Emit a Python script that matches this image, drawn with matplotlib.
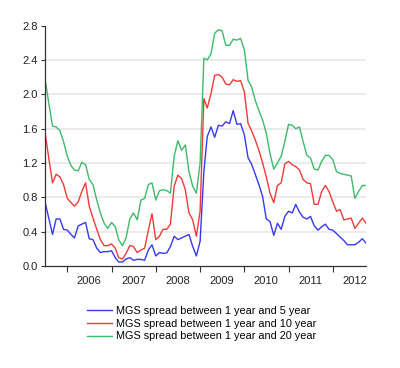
#!/usr/bin/env python3
import numpy as np
import pandas as pd
import matplotlib
matplotlib.use("Agg")
import matplotlib.pyplot as plt
import matplotlib.dates as mdates

plt.rcParams['font.family'] = ['Liberation Sans', 'DejaVu Sans']

# monthly observations, Jul 2005 .. Oct 2012
months = pd.date_range('2005-07-01', periods=88, freq='MS')

spread_5y = [0.75, 0.56, 0.37, 0.55, 0.55, 0.43, 0.42, 0.37, 0.33, 0.47,
             0.49, 0.51, 0.32, 0.31, 0.21, 0.16, 0.17, 0.17, 0.18, 0.10,
             0.05, 0.05, 0.085, 0.10, 0.07, 0.08, 0.08, 0.07, 0.19, 0.25,
             0.12, 0.16, 0.15, 0.155, 0.23, 0.35, 0.31, 0.33, 0.35, 0.37,
             0.23, 0.12, 0.29, 1.10, 1.51, 1.62, 1.50, 1.64, 1.63, 1.68,
             1.66, 1.81, 1.65, 1.66, 1.53, 1.26, 1.19, 1.07, 0.95, 0.81,
             0.55, 0.52, 0.36, 0.50, 0.43, 0.58, 0.64, 0.62, 0.72, 0.63,
             0.57, 0.55, 0.58, 0.47, 0.42, 0.46, 0.49, 0.43, 0.42, 0.38,
             0.34, 0.30, 0.25, 0.25, 0.25, 0.28, 0.32, 0.27]

spread_10y = [1.56, 1.26, 0.97, 1.07, 1.04, 0.95, 0.79, 0.74, 0.70, 0.75,
              0.87, 0.97, 0.70, 0.56, 0.43, 0.31, 0.24, 0.24, 0.26, 0.21,
              0.10, 0.085, 0.15, 0.24, 0.23, 0.16, 0.19, 0.21, 0.42, 0.61,
              0.31, 0.35, 0.43, 0.43, 0.49, 0.93, 1.06, 1.02, 0.89, 0.62,
              0.54, 0.35, 0.64, 1.95, 1.84, 2.01, 2.22, 2.23, 2.20, 2.12,
              2.11, 2.17, 2.15, 2.16, 2.03, 1.66, 1.58, 1.47, 1.35, 1.20,
              1.04, 0.85, 0.74, 0.94, 0.97, 1.19, 1.22, 1.18, 1.16, 1.12,
              1.01, 0.97, 0.96, 0.72, 0.72, 0.87, 0.94, 0.87, 0.75, 0.64,
              0.66, 0.54, 0.55, 0.56, 0.44, 0.50, 0.56, 0.50]

spread_20y = [2.18, 1.90, 1.63, 1.62, 1.58, 1.45, 1.28, 1.17, 1.12, 1.11,
              1.21, 1.18, 1.01, 0.95, 0.77, 0.62, 0.50, 0.44, 0.51, 0.46,
              0.31, 0.24, 0.33, 0.55, 0.62, 0.54, 0.77, 0.79, 0.95, 0.97,
              0.77, 0.88, 0.89, 0.88, 0.85, 1.28, 1.46, 1.35, 1.41, 1.10,
              0.93, 0.85, 1.20, 2.42, 2.40, 2.47, 2.71, 2.75, 2.74, 2.57,
              2.57, 2.64, 2.63, 2.65, 2.52, 2.16, 2.09, 1.93, 1.81, 1.70,
              1.55, 1.31, 1.13, 1.20, 1.28, 1.45, 1.65, 1.64, 1.60, 1.62,
              1.45, 1.29, 1.26, 1.13, 1.12, 1.22, 1.29, 1.29, 1.24, 1.10,
              1.08, 1.07, 1.06, 1.05, 0.79, 0.87, 0.94, 0.94]

labels = ["MGS spread between 1 year and 5 year",
          "MGS spread between 1 year and 10 year",
          "MGS spread between 1 year and 20 year"]
colors = ['#3838f2', '#f03a3a', '#3dba6c']
yticks = [0.0, 0.4, 0.8, 1.2, 1.6, 2.0, 2.4, 2.8]


def create_plot():
    fig = plt.figure(figsize=(4.0, 3.68), dpi=100)
    ax = fig.add_axes([0.1125, 0.2764, 0.8025, 0.6543])

    for y in yticks[1:-1]:
        ax.axhline(y, color='#e6e6e6', linewidth=1.1, zorder=0)

    for vals, lab, col in zip([spread_5y, spread_10y, spread_20y], labels, colors):
        ax.plot(months, vals, color=col, linewidth=1.0, label=lab)

    ax.set_ylim(0, 2.8)
    ax.set_yticks(yticks)
    ax.set_yticklabels(["%.1f" % v for v in yticks])
    ax.set_xlim(months[0], months[-1])

    ax.xaxis.set_major_locator(mdates.YearLocator())
    ax.xaxis.set_major_formatter(plt.NullFormatter())
    ax.xaxis.set_minor_locator(mdates.MonthLocator(bymonth=7, bymonthday=1))
    ax.xaxis.set_minor_formatter(mdates.DateFormatter('%Y'))

    for s in ['top', 'right']:
        ax.spines[s].set_visible(False)
    for s in ['left', 'bottom']:
        ax.spines[s].set_linewidth(0.9)
        ax.spines[s].set_color('#333333')

    ax.tick_params(axis='y', length=3, width=0.8, color='#333333',
                   labelsize=8, pad=2, labelcolor='#222222')
    ax.tick_params(axis='x', which='major', length=4, width=0.8,
                   color='#333333', direction='out')
    ax.tick_params(axis='x', which='minor', length=0, pad=7,
                   labelsize=8, labelcolor='#222222')

    # hide the 2005 label, which falls before the first month
    for lab in ax.xaxis.get_minorticklabels():
        if lab.get_text() == '2005':
            lab.set_visible(False)

    fig.legend(loc='upper center', bbox_to_anchor=(0.505, 0.183), frameon=False,
               fontsize=7.8, handlelength=2.3, handletextpad=0.4,
               labelspacing=0.25, borderpad=0)
    fig.savefig('out.png', dpi=100)


if __name__ == "__main__":
    create_plot()
